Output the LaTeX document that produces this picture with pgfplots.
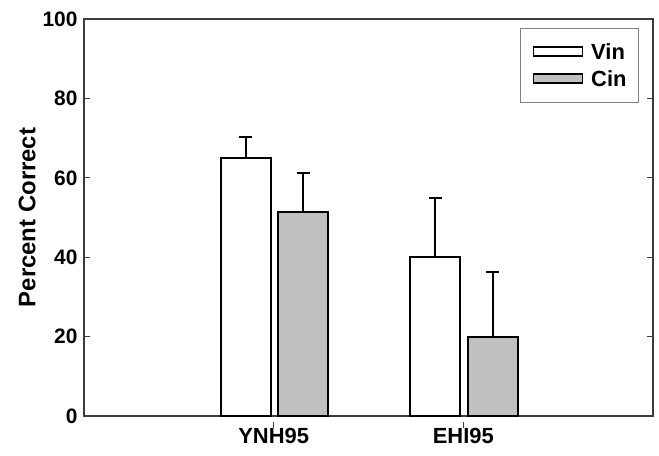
\documentclass[border=0pt]{standalone}
\usepackage{pgfplots}
\pgfplotsset{compat=1.18}
\usepackage{fontspec}
\setmainfont{Liberation Sans}
\definecolor{cingray}{RGB}{192,192,192}
\definecolor{axgray}{RGB}{60,60,60}
\pgfplotstableread{
x vin vinerr cin cinerr
1 65.0 5.3 51.5 9.7
2 40.0 15.0 19.8 16.5
}\datatable
\begin{document}
\begin{tikzpicture}
\begin{axis}[
  scale only axis,
  width=569bp, height=397bp,
  xmin=0, xmax=3, ymin=0, ymax=100,
  xtick={1,2}, xticklabels={YNH95,EHI95},
  ytick={0,20,40,60,80,100},
  xtick pos=bottom, ytick pos=both,
  tick align=inside,
  major tick length=6bp,
  x tick style={yshift=-6bp, line width=1.2bp, color=axgray},
  y tick style={line width=1.2bp, color=axgray},
  axis line style={line width=1.5bp, color=axgray},
  /pgf/number format/assume math mode=true,
  y tick label style={font=\fontsize{21}{24}\selectfont\bfseries, xshift=-3bp},
  x tick label style={font=\fontsize{22}{26}\selectfont\bfseries, yshift=-3bp},
  ylabel={Percent Correct},
  ylabel style={font=\fontsize{24}{28}\selectfont\bfseries, yshift=0bp},
  ybar,
  bar width=0.264,
  legend style={at={(1,1)}, anchor=north east, xshift=-14bp, yshift=-9bp,
    draw=gray, line width=1bp, font=\fontsize{22}{26}\selectfont\bfseries,
    row sep=0pt, inner xsep=12bp, inner ysep=10bp,
    nodes={inner sep=0pt, minimum height=27bp, text depth=0pt},
    /tikz/every odd column/.append style={column sep=8bp}},
  legend image code/.code={\draw[#1, line width=1.5bp] (0bp,-4bp) rectangle (49bp,5bp);},
  legend cell align=left,
]
\addplot[fill=white, draw=black, line width=2bp, bar shift=-0.147,
  error bars/.cd, y dir=plus, y explicit,
  error bar style={line width=2bp, black},
  error mark options={rotate=90, mark size=6.5bp, line width=2bp, black}]
  table[x=x, y=vin, y error=vinerr] {\datatable};
\addplot[fill=cingray, draw=black, line width=2bp, bar shift=0.155,
  error bars/.cd, y dir=plus, y explicit,
  error bar style={line width=2bp, black},
  error mark options={rotate=90, mark size=6.5bp, line width=2bp, black}]
  table[x=x, y=cin, y error=cinerr] {\datatable};
\legend{Vin, Cin}
\end{axis}
\pgfresetboundingbox
\useasboundingbox ([xshift=-84bp,yshift=-40bp]current axis.south west) rectangle ([xshift=6bp,yshift=19bp]current axis.north east);
\end{tikzpicture}
\end{document}
